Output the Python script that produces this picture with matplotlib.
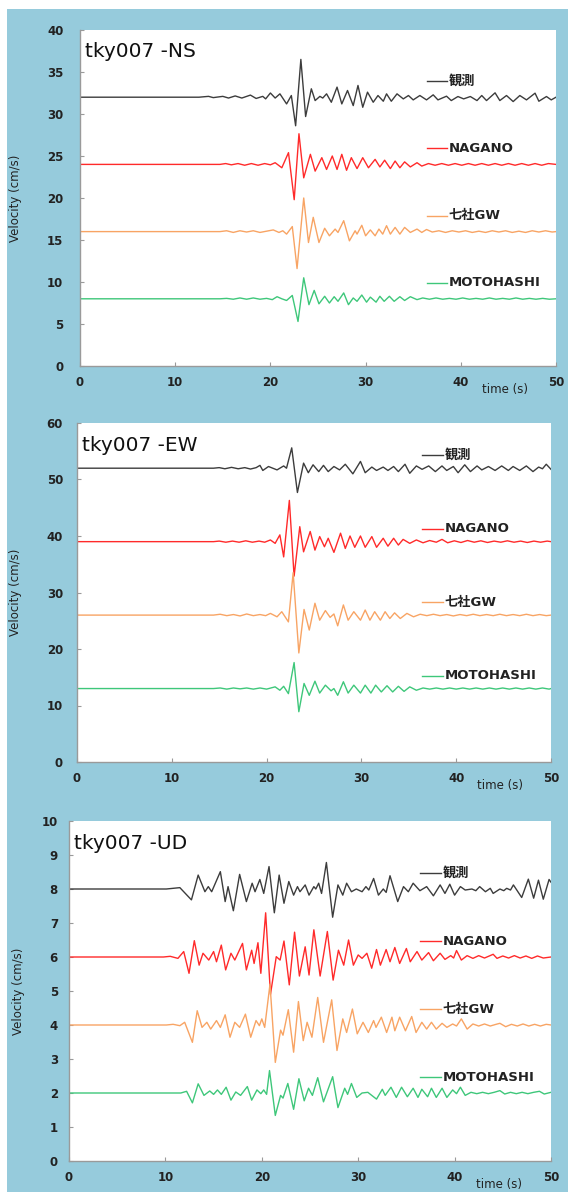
import matplotlib
matplotlib.use('Agg')
import matplotlib.pyplot as plt
from matplotlib.patches import Rectangle

plt.rcParams['font.family'] = ['DejaVu Sans', 'Noto Sans CJK JP']

# nombres y colores de las series
names = ['観測', 'NAGANO', '七社GW', 'MOTOHASHI']
colors = ['#3c3c3c', '#ff2a2a', '#f8a464', '#3ec77a']

# desplazamiento vertical de cada traza (cm/s)
ns_offsets = [32, 24, 16, 8]
ew_offsets = [52, 39, 26, 13]
ud_offsets = [8, 6, 4, 2]

# picos: (tiempo s, velocidad cm/s respecto a la base)
ns_obs = [(0, 0), (12.5, 0), (13.5, 0.1), (14.0, -0.05), (15.0, 0.1), (15.6, -0.1), (16.3, 0.15),
          (17.0, -0.1), (17.9, 0.25), (18.5, -0.15), (19.2, 0.1), (19.5, -0.2), (20.0, 0.5),
          (20.5, -0.1), (21.0, 0.4), (21.7, -0.8), (22.2, 0.2), (22.65, -3.4), (23.2, 4.5),
          (23.7, -2.3), (24.3, 1.0), (24.7, -0.4), (25.2, 0.1), (25.5, -0.1), (25.9, 0.4),
          (26.4, -0.6), (27.0, 1.2), (27.5, -0.8), (28.1, 0.8), (28.7, -1.0), (29.2, 1.4),
          (29.7, -1.2), (30.2, 0.6), (30.8, -0.6), (31.3, 0.2), (31.86, -0.48), (32.2, 0.4),
          (32.7, -0.48), (33.3, 0.4), (33.96, -0.2), (34.5, 0.2), (35.0, -0.32), (35.7, 0.2),
          (36.4, -0.32), (37.1, 0.28), (37.6, -0.32), (38.5, 0.12), (39.0, -0.4), (39.7, 0.08),
          (40.3, -0.2), (41.0, 0.08), (41.7, -0.4), (42.2, 0.2), (42.7, -0.4), (43.6, 0.52),
          (44.1, -0.4), (44.8, 0.2), (45.5, -0.52), (46.2, 0.2), (46.9, -0.32), (47.8, 0.48),
          (48.2, -0.48), (49.0, 0.08), (49.5, -0.32), (50.0, 0.0)]
ns_nagano = [(0, 0), (14.7, 0), (15.3, 0.1), (15.9, -0.05), (16.6, 0.1), (17.3, -0.1), (18.0, 0.1),
             (18.7, -0.1), (19.4, 0.1), (20.0, -0.05), (20.5, 0.2), (21.2, -0.4), (21.9, 1.4),
             (22.5, -4.2), (23.0, 3.65), (23.5, -1.6), (24.2, 1.2), (24.7, -0.8), (25.4, 0.8),
             (25.9, -0.6), (26.5, 1.0), (27.0, -0.6), (27.5, 1.2), (28.0, -0.7), (28.5, 0.8),
             (29.1, -0.5), (29.7, 0.8), (30.3, -0.4), (31.0, 0.6), (31.5, -0.3), (32.0, 0.5),
             (32.6, -0.5), (33.1, 0.4), (33.6, -0.4), (34.1, 0.3), (34.7, -0.3), (35.4, 0.2),
             (35.9, -0.2), (36.6, 0.1), (37.3, -0.1), (38.0, 0.1), (38.7, -0.1), (39.4, 0.1),
             (40.1, -0.1), (40.8, 0.1), (41.5, -0.1), (42.2, 0.1), (42.9, -0.1), (43.6, 0.1),
             (44.3, -0.1), (45.0, 0.1), (45.7, -0.1), (46.4, 0.1), (47.1, -0.1), (47.8, 0.1),
             (48.5, -0.1), (49.2, 0.1), (50, 0)]
ns_shichisha = [(0, 0), (14.7, 0), (15.4, 0.1), (16.1, -0.1), (16.8, 0.1), (17.5, -0.05), (18.2, 0.1),
                (18.9, -0.1), (19.6, 0.05), (20.3, 0.2), (20.9, -0.1), (21.3, 0.1), (21.7, -0.3),
                (22.3, 0.6), (22.8, -4.4), (23.5, 4.0), (24.0, -1.3), (24.5, 1.7), (25.1, -1.3),
                (25.7, 0.4), (26.2, -0.5), (26.8, 0.3), (27.1, -0.1), (27.7, 1.3), (28.3, -1.1),
                (28.9, 0.1), (29.1, -0.3), (29.6, 0.75), (30.0, -0.5), (30.5, 0.2), (31.0, -0.5),
                (31.4, 0.3), (31.8, -0.3), (32.2, 0.7), (32.6, -0.3), (33.1, 0.5), (33.6, -0.3),
                (34.1, 0.5), (34.7, -0.1), (35.4, 0.3), (35.9, -0.1), (36.4, 0.25), (37.0, -0.05),
                (37.7, 0.1), (38.4, -0.1), (39.1, 0.1), (39.8, -0.05), (40.5, 0.1), (41.2, -0.1),
                (41.9, 0.05), (42.6, -0.1), (43.3, 0.1), (44.0, -0.05), (44.7, 0.1), (45.4, -0.1),
                (46.1, 0.05), (46.8, -0.1), (47.5, 0.1), (48.2, -0.05), (48.9, 0.1), (49.6, -0.05),
                (50, 0)]
ns_motohashi = [(0, 0), (14.7, 0), (15.4, 0.05), (16.1, -0.05), (16.8, 0.1), (17.5, -0.05), (18.2, 0.1),
                (18.9, -0.05), (19.6, 0.05), (20.2, -0.1), (20.7, 0.25), (21.2, 0.0), (21.7, -0.2),
                (22.3, 0.4), (22.9, -2.7), (23.5, 2.5), (24.05, -0.7), (24.6, 1.0), (25.1, -0.6),
                (25.7, 0.3), (26.2, -0.5), (26.7, 0.25), (27.1, -0.3), (27.7, 0.7), (28.2, -0.7),
                (28.7, 0.1), (29.1, -0.3), (29.6, 0.45), (30.1, -0.4), (30.5, 0.2), (31.1, -0.4),
                (31.5, 0.3), (31.95, -0.3), (32.5, 0.3), (33.0, -0.3), (33.6, 0.25), (34.1, -0.2),
                (34.7, 0.25), (35.4, -0.1), (36.0, 0.1), (36.7, -0.05), (37.4, 0.1), (38.1, -0.05),
                (38.8, 0.05), (39.5, -0.05), (40.2, 0.1), (40.9, -0.05), (41.6, 0.05), (42.3, -0.05),
                (43.0, 0.1), (43.7, -0.05), (44.4, 0.05), (45.1, -0.05), (45.8, 0.1), (46.5, -0.05),
                (47.2, 0.05), (47.9, -0.05), (48.6, 0.05), (49.3, -0.05), (50, 0)]

ew_obs = [(0, 0), (14.4, 0), (15.0, 0.1), (15.6, -0.1), (16.3, 0.15), (17.0, -0.1), (17.7, 0.1),
          (18.3, -0.15), (18.9, 0.1), (19.3, 0.5), (19.6, -0.4), (20.2, 0.3), (21.1, -0.3),
          (21.8, 0.4), (22.1, 0.0), (22.65, 3.6), (23.25, -4.3), (23.9, 0.9), (24.4, -0.8),
          (24.9, 0.6), (25.5, -0.6), (26.0, 0.5), (26.5, -0.6), (27.1, 0.3), (27.7, -0.3),
          (28.3, 0.7), (29.1, -1.0), (29.9, 1.2), (30.4, -0.8), (31.1, 0.2), (31.6, -0.4),
          (32.3, 0.2), (32.8, -0.4), (33.4, 0.3), (33.9, -0.6), (34.6, 0.7), (35.1, -0.9),
          (35.8, 0.4), (36.4, -0.2), (37.1, 0.4), (37.8, -0.6), (38.5, 0.4), (39.0, -0.4),
          (39.7, 0.3), (40.2, -0.8), (40.9, 0.6), (41.5, -0.6), (42.2, 0.4), (42.7, -0.3),
          (43.4, 0.3), (44.1, -0.4), (44.8, 0.4), (45.5, -0.4), (46.0, 0.3), (46.7, -0.4),
          (47.4, 0.4), (48.1, -0.6), (48.7, 0.2), (49.1, -0.1), (49.5, 0.7), (50, -0.2)]
ew_nagano = [(0, 0), (14.4, 0), (15.0, 0.1), (15.7, -0.1), (16.4, 0.1), (17.1, -0.1), (17.8, 0.15),
             (18.5, -0.1), (19.2, 0.1), (19.8, -0.1), (20.4, 0.3), (20.9, -0.3), (21.4, 1.2),
             (21.8, -2.7), (22.4, 7.3), (22.9, -6.1), (23.5, 2.65), (23.9, -1.8), (24.6, 1.8),
             (25.1, -1.5), (25.6, 0.9), (26.1, -0.9), (26.5, 0.6), (27.1, -1.9), (27.8, 1.5),
             (28.3, -1.2), (28.8, 1.0), (29.3, -1.0), (29.9, 1.0), (30.4, -1.0), (31.1, 0.9),
             (31.6, -1.0), (32.3, 0.6), (32.8, -0.8), (33.4, 0.6), (33.9, -0.6), (34.4, 0.4),
             (35.1, -0.3), (35.8, 0.3), (36.5, -0.2), (37.2, 0.2), (37.9, -0.1), (38.5, 0.4),
             (39.1, -0.2), (39.8, 0.15), (40.5, -0.15), (41.2, 0.2), (41.9, -0.1), (42.6, 0.15),
             (43.3, -0.15), (44.0, 0.1), (44.7, -0.1), (45.4, 0.15), (46.1, -0.1), (46.8, 0.1),
             (47.5, -0.15), (48.2, 0.1), (48.9, -0.1), (49.6, 0.1), (50, 0)]
ew_shichisha = [(0, 0), (14.4, 0), (15.1, 0.15), (15.8, -0.1), (16.5, 0.1), (17.2, -0.15), (17.9, 0.2),
                (18.6, -0.1), (19.3, 0.1), (19.9, -0.1), (20.4, 0.3), (21.1, -0.3), (21.6, 0.6),
                (22.3, -1.2), (22.8, 7.5), (23.4, -6.7), (23.95, 1.0), (24.5, -2.65), (25.1, 2.1),
                (25.6, -0.9), (26.2, 0.8), (26.7, -0.4), (27.1, 0.2), (27.5, -1.9), (28.1, 1.8),
                (28.6, -0.9), (29.2, 0.6), (29.9, -0.9), (30.4, 0.9), (30.9, -0.9), (31.4, 0.6),
                (32.0, -0.9), (32.5, 0.6), (33.0, -0.6), (33.5, 0.4), (34.1, -0.6), (34.8, 0.3),
                (35.5, -0.3), (36.2, 0.15), (36.9, -0.1), (37.6, 0.15), (38.3, -0.1), (39.0, 0.1),
                (39.7, -0.15), (40.4, 0.1), (41.1, -0.1), (41.8, 0.15), (42.5, -0.1), (43.2, 0.1),
                (43.9, -0.1), (44.6, 0.15), (45.3, -0.1), (46.0, 0.1), (46.7, -0.1), (47.4, 0.15),
                (48.1, -0.1), (48.8, 0.1), (49.5, -0.1), (50, 0)]
ew_motohashi = [(0, 0), (14.4, 0), (15.1, 0.1), (15.8, -0.1), (16.5, 0.1), (17.2, -0.05), (17.9, 0.1),
                (18.6, -0.1), (19.3, 0.1), (20.0, -0.1), (20.9, 0.3), (21.4, -0.3), (21.8, 0.4),
                (22.3, -0.9), (22.9, 4.6), (23.4, -4.1), (23.95, 0.9), (24.5, -1.2), (25.1, 1.3),
                (25.6, -0.8), (26.2, 0.6), (26.8, -0.4), (27.1, 0.0), (27.5, -1.2), (28.1, 1.2),
                (28.6, -0.8), (29.2, 0.6), (29.9, -0.8), (30.4, 0.6), (31.0, -0.8), (31.5, 0.6),
                (32.1, -0.6), (32.7, 0.5), (33.3, -0.6), (33.9, 0.4), (34.5, -0.5), (35.1, 0.3),
                (35.8, -0.3), (36.5, 0.1), (37.2, -0.1), (37.9, 0.1), (38.6, -0.1), (39.3, 0.1),
                (40.0, -0.1), (40.7, 0.1), (41.4, -0.1), (42.1, 0.1), (42.8, -0.1), (43.5, 0.1),
                (44.2, -0.1), (44.9, 0.1), (45.6, -0.1), (46.3, 0.1), (47.0, -0.1), (47.7, 0.1),
                (48.4, -0.1), (49.1, 0.1), (49.8, -0.1), (50, 0)]

ud_obs = [(0, 0), (10.1, 0), (11.5, 0.04), (12.7, -0.32), (13.4, 0.41), (14.1, -0.08), (14.45, 0.07),
          (14.8, -0.08), (15.7, 0.51), (16.2, -0.37), (16.5, 0.07), (17.05, -0.64), (17.7, 0.43),
          (18.4, -0.37), (19.0, 0.17), (19.3, -0.08), (19.8, 0.28), (20.2, -0.13), (20.75, 0.66),
          (21.3, -0.70), (21.8, 0.41), (22.3, -0.42), (22.8, 0.22), (23.3, -0.18), (23.7, 0.07),
          (23.96, -0.08), (24.5, 0.12), (24.9, -0.18), (25.4, 0.07), (25.6, 0.0), (25.9, 0.17),
          (26.2, -0.13), (26.7, 0.78), (27.35, -0.83), (27.9, 0.12), (28.4, -0.18), (28.8, 0.17),
          (29.3, -0.08), (29.8, 0.0), (30.4, -0.08), (30.8, 0.07), (31.1, -0.03), (31.6, 0.31),
          (32.1, -0.18), (32.6, 0.0), (32.9, -0.1), (33.3, 0.39), (34.1, -0.37), (34.7, 0.07),
          (35.2, -0.08), (35.7, 0.17), (36.4, -0.05), (37.1, 0.07), (37.8, -0.2), (38.5, 0.12),
          (39.0, -0.13), (39.5, 0.14), (40.0, -0.18), (40.6, 0.07), (41.1, -0.03), (41.8, 0.0),
          (42.2, -0.05), (42.6, 0.07), (43.2, -0.08), (43.7, 0.02), (44.0, -0.13), (44.7, 0.0),
          (45.1, -0.05), (45.4, 0.02), (45.8, -0.03), (46.1, 0.12), (46.96, -0.25), (47.65, 0.29),
          (48.2, -0.27), (48.7, 0.26), (49.2, -0.3), (49.8, 0.28), (50, 0.2)]
ud_nagano = [(0, 0), (9.8, 0), (10.5, 0.02), (11.3, -0.04), (11.9, 0.16), (12.45, -0.48), (13.0, 0.48),
             (13.5, -0.24), (13.9, 0.11), (14.5, -0.09), (15.0, 0.16), (15.3, -0.14), (15.8, 0.35),
             (16.25, -0.38), (16.8, 0.11), (17.2, -0.09), (18.0, 0.4), (18.4, -0.38), (18.95, 0.2),
             (19.2, -0.19), (19.6, 0.42), (19.9, -0.48), (20.4, 1.30), (20.9, -1.1), (21.5, 0.01),
             (21.9, -0.09), (22.3, 0.47), (22.85, -0.82), (23.4, 0.73), (23.9, -0.56), (24.5, 0.3),
             (24.9, -0.53), (25.4, 0.80), (26.05, -0.56), (26.8, 0.75), (27.4, -0.68), (27.95, 0.2),
             (28.5, -0.24), (29.0, 0.5), (29.5, -0.24), (30.0, 0.06), (30.4, -0.04), (30.9, 0.11),
             (31.4, -0.33), (31.9, 0.22), (32.3, -0.24), (32.9, 0.22), (33.3, -0.14), (33.8, 0.28),
             (34.3, -0.19), (35.0, 0.25), (35.4, -0.14), (36.1, 0.16), (36.6, -0.09), (37.3, 0.13),
             (37.8, -0.11), (38.5, 0.11), (39.0, -0.07), (39.6, 0.04), (39.9, -0.03), (40.2, 0.19),
             (40.7, -0.09), (41.3, 0.04), (41.9, -0.04), (42.5, 0.04), (43.1, -0.03), (43.6, 0.03),
             (44.0, 0.08), (44.4, -0.04), (45.0, 0.03), (45.6, -0.03), (46.2, 0.04), (46.8, -0.03),
             (47.4, 0.03), (48.0, -0.04), (48.6, 0.03), (49.2, -0.03), (50, 0)]
ud_shichisha = [(0, 0), (10.1, 0), (10.8, 0.02), (11.5, -0.02), (12.0, 0.08), (12.8, -0.51), (13.3, 0.42),
                (13.8, -0.07), (14.3, 0.08), (14.7, -0.12), (15.3, 0.13), (15.7, -0.07), (16.2, 0.30),
                (16.7, -0.36), (17.2, 0.08), (17.7, -0.07), (18.3, 0.32), (18.85, -0.36), (19.4, 0.13),
                (19.75, -0.02), (20.0, 0.18), (20.3, -0.07), (20.85, 1.20), (21.4, -1.10), (21.95, -0.15),
                (22.2, -0.3), (22.75, 0.45), (23.3, -0.8), (23.8, 0.69), (24.3, -0.46), (24.7, 0.08),
                (25.2, -0.36), (25.8, 0.81), (26.4, -0.51), (27.25, 0.74), (27.8, -0.75), (28.4, 0.18),
                (28.8, -0.22), (29.4, 0.47), (29.9, -0.26), (30.5, 0.08), (31.05, -0.22), (31.6, 0.13),
                (31.85, -0.07), (32.4, 0.23), (32.95, -0.22), (33.5, 0.23), (33.8, -0.17), (34.3, 0.23),
                (34.9, -0.17), (35.55, 0.25), (36.0, -0.22), (36.6, 0.08), (37.1, -0.12), (37.6, 0.08),
                (38.1, -0.12), (38.7, 0.05), (39.2, -0.07), (39.8, 0.03), (40.2, -0.03), (40.7, 0.18),
                (41.3, -0.12), (41.9, 0.03), (42.5, -0.03), (43.1, 0.03), (43.7, -0.03), (44.3, 0.02),
                (44.7, 0.05), (45.3, -0.05), (45.9, 0.02), (46.5, -0.03), (47.1, 0.03), (47.7, -0.03),
                (48.3, 0.02), (48.9, -0.03), (49.5, 0.02), (50, 0)]
ud_motohashi = [(0, 0), (11.6, 0), (12.2, 0.05), (12.8, -0.29), (13.4, 0.27), (14.0, -0.07), (14.6, 0.06),
                (15.0, -0.04), (15.4, 0.09), (15.8, -0.04), (16.3, 0.17), (16.8, -0.21), (17.3, 0.03),
                (17.8, -0.07), (18.5, 0.19), (18.95, -0.21), (19.5, 0.09), (19.9, -0.02), (20.2, 0.09),
                (20.5, -0.04), (20.8, 0.66), (21.4, -0.66), (21.95, -0.07), (22.2, -0.15), (22.7, 0.28),
                (23.3, -0.48), (23.85, 0.42), (24.4, -0.23), (24.85, 0.14), (25.25, -0.07), (25.8, 0.45),
                (26.4, -0.26), (27.35, 0.48), (27.9, -0.43), (28.6, 0.14), (28.9, -0.04), (29.3, 0.28),
                (29.85, -0.13), (30.4, 0.0), (31.0, 0.02), (31.9, -0.18), (32.5, 0.11), (32.8, -0.07),
                (33.4, 0.17), (33.95, -0.13), (34.5, 0.17), (35.1, -0.11), (35.7, 0.14), (36.2, -0.13),
                (36.6, 0.11), (37.2, -0.11), (37.6, 0.14), (38.1, -0.13), (38.7, 0.14), (39.2, -0.13),
                (39.8, 0.09), (40.2, -0.02), (40.6, 0.17), (41.1, -0.07), (41.7, 0.02), (42.3, -0.02),
                (42.9, 0.02), (43.5, -0.02), (44.1, 0.02), (44.7, 0.07), (45.2, -0.03), (45.8, 0.02),
                (46.4, -0.02), (47.0, 0.02), (47.6, -0.02), (48.2, 0.02), (48.8, 0.05), (49.3, -0.03),
                (50, 0.02)]

x_ticks = [0, 10, 20, 30, 40, 50]

W, H = 568, 1192
fig = plt.figure(figsize=(W / 100, H / 100), dpi=100)
fig.patch.set_facecolor('white')
# fondo azul (detras de los ejes)
fig.patches.append(Rectangle((7 / W, 0), (W - 7) / W, (H - 9) / H, transform=fig.transFigure,
                             facecolor='#96cbdc', edgecolor='none', zorder=-10))


def panel(box, title, traces, offsets, ymax, ystep, rise, ylab_x, ypad):
    left, top, right, bottom = box
    ax = fig.add_axes([left / W, 1 - bottom / H, (right - left) / W, (bottom - top) / H])
    ax.set_zorder(1)
    ax.set_facecolor('white')
    for tr, off, c, name in zip(traces, offsets, colors, names):
        tt = [p[0] for p in tr]
        vv = [p[1] + off for p in tr]
        ax.plot(tt, vv, color=c, lw=1.0)
        # clave de leyenda junto a la traza
        ax.plot([36.4, 38.6], [off + rise, off + rise], color=c, lw=1.0)
        ax.text(38.75, off + rise, name, fontsize=9.5, fontweight='bold', va='center', ha='left',
                color='#222222')
    ax.set_xlim(0, 50)
    ax.set_ylim(0, ymax)
    ax.set_xticks(x_ticks)
    ax.set_yticks(range(0, ymax + 1, ystep))
    for s in ['top', 'right']:
        ax.spines[s].set_visible(False)
    for s in ['left', 'bottom']:
        ax.spines[s].set_color('#9a9a9a')
        ax.spines[s].set_linewidth(1.0)
    ax.tick_params(axis='both', direction='in', length=3, width=0.8, color='#9a9a9a',
                   labelsize=8.5, labelcolor='#222222')
    ax.tick_params(axis='y', pad=ypad)
    ax.tick_params(axis='x', pad=7)
    for lbl in ax.get_xticklabels() + ax.get_yticklabels():
        lbl.set_fontweight('bold')
    ax.set_ylabel('Velocity (cm/s)', fontsize=8.5, color='#222222')
    ax.yaxis.set_label_coords(ylab_x, 0.5)
    ax.annotate('time (s)', xy=(0.893, 0), xycoords='axes fraction', xytext=(0, -17),
                textcoords='offset points', ha='center', va='center', fontsize=8.5,
                color='#222222')
    ax.text(0.01, 0.935, title, transform=ax.transAxes, fontsize=14.5, va='center', ha='left',
            color='#111111')
    return ax


panel((80, 30, 556, 366), 'tky007 -NS', [ns_obs, ns_nagano, ns_shichisha, ns_motohashi],
      ns_offsets, 40, 5, 1.9, -0.122, 12)
panel((77, 423, 551, 762), 'tky007 -EW', [ew_obs, ew_nagano, ew_shichisha, ew_motohashi],
      ew_offsets, 60, 10, 2.3, -0.116, 10)
panel((69, 821, 551, 1161), 'tky007 -UD', [ud_obs, ud_nagano, ud_shichisha, ud_motohashi],
      ud_offsets, 10, 1, 0.47, -0.091, 8)

fig.savefig('out.png', dpi=100, facecolor=fig.get_facecolor())
